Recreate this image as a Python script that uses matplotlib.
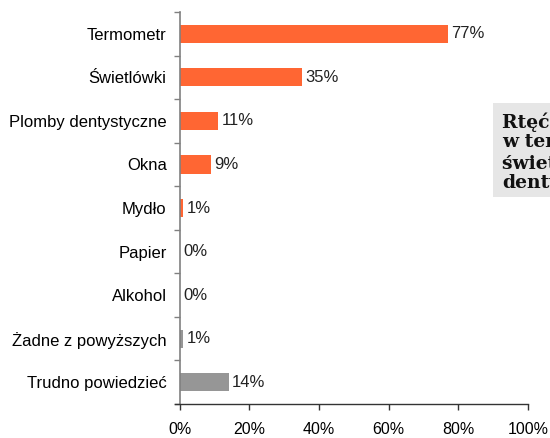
import matplotlib

matplotlib.use("Agg")
import matplotlib.pyplot as plt  # noqa: E402

categories = ["Termometr", "Świetlówki", "Plomby dentystyczne", "Okna", "Mydło",
              "Papier", "Alkohol", "Żadne z powyższych", "Trudno powiedzieć"]
values = [77, 35, 11, 9, 1, 0, 0, 1, 14]
is_other = [False, False, False, False, False, False, False, True, True]
x_ticks = [0, 20, 40, 60, 80, 100]
note = "Rtęć występuje\nw termometrach,\nświetlówkach i plombach\ndentystycznych"

_ORANGE, _GREY, _AXIS = "#ff6633", "#969696", "#808080"

plt.rcParams["font.family"] = ["Liberation Sans", "DejaVu Sans"]

fig = plt.figure(figsize=(5.5, 4.38), dpi=100)
ax = fig.add_axes([0.327, 0.0776, 0.633, 0.895])

ys = list(range(len(categories)))
colors = [_GREY if o else _ORANGE for o in is_other]
ax.barh(ys, values, height=0.42, color=colors, zorder=2)
for y, v in zip(ys, values):
    ax.text(v + 0.9, y, f"{v}%", va="center", ha="left", fontsize=12, color="#222222")

ax.set_ylim(len(categories) - 0.5, -0.5)
ax.set_xlim(0, 100)

# category names as minor ticks (no marks), boundaries as major ticks
ax.set_yticks([i - 0.5 for i in range(len(categories) + 1)])
ax.set_yticklabels([])
ax.set_yticks(ys, minor=True)
ax.set_yticklabels(categories, minor=True, fontsize=12)
ax.tick_params(axis="y", which="minor", length=0, pad=9.5)
ax.tick_params(axis="y", which="major", length=4, width=1, color=_AXIS)

ax.set_xticks(x_ticks)
ax.set_xticklabels([f"{t}%" for t in x_ticks], fontsize=11.5)
ax.tick_params(axis="x", length=4.3, width=1, color="#333333", pad=9)

for s in ("top", "right"):
    ax.spines[s].set_visible(False)
ax.spines["left"].set_color(_AXIS)
ax.spines["left"].set_linewidth(1.2)
ax.spines["bottom"].set_color("#333333")
ax.spines["bottom"].set_linewidth(1)
ax.spines["bottom"].set_bounds(-1.5, 100)

box = plt.Rectangle((493 / 550, 1 - 197 / 438), 0.3, 94 / 438,
                    transform=fig.transFigure, facecolor="#e6e6e6", edgecolor="none", zorder=0)
fig.patches.append(box)
fig.text(502 / 550, 1 - 112 / 438, note, ha="left", va="top", fontsize=13.5,
         fontweight="bold", family=["DejaVu Serif"], linespacing=1.12, color="#111111")

fig.savefig("out.png", dpi=100)
